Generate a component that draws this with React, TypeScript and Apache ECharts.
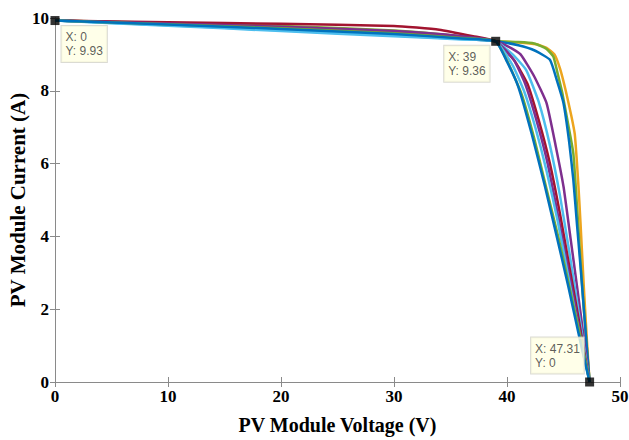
import React, { useEffect, useRef } from "react";
import * as echarts from "echarts";

// ---- data ----
const xTicks = [0, 10, 20, 30, 40, 50];
const yTicks = [0, 2, 4, 6, 8, 10];

const curveBlueInner = [[0, 9.93], [10, 9.82], [20, 9.7], [30, 9.56], [36, 9.44], [39, 9.36], [40, 8.8], [41.0, 8.11], [42.2, 6.8], [43.36, 5.37], [44.4, 4.0], [45.43, 2.62], [46.46, 1.15], [47.31, 0]];
const curveGreenInner = [[0, 9.93], [10, 9.83], [20, 9.72], [30, 9.58], [36, 9.45], [39, 9.36], [40.2, 8.7], [41.3, 7.9], [42.4, 6.7], [43.5, 5.3], [44.6, 3.9], [45.6, 2.5], [46.6, 1.1], [47.31, 0]];
const curveLightBlueInner = [[0, 9.93], [10, 9.79], [20, 9.64], [30, 9.5], [36, 9.41], [39, 9.36], [40.5, 8.7], [41.5, 8.0], [42.5, 7.0], [43.5, 5.8], [44.5, 4.4], [45.3, 3.1], [46.1, 1.8], [46.8, 0.7], [47.31, 0]];
const curvePurpleInner = [[0, 9.93], [10, 9.85], [20, 9.76], [30, 9.64], [36, 9.5], [39, 9.36], [40.6, 8.85], [41.6, 8.2], [42.6, 7.2], [43.6, 6.0], [44.5, 4.6], [45.3, 3.3], [46.1, 2.0], [46.8, 0.8], [47.31, 0]];
const curveDarkRed = [[0, 9.93], [10, 9.88], [20, 9.84], [30, 9.78], [34, 9.68], [37, 9.5], [39, 9.36], [40.6, 8.85], [41.8, 8.2], [42.8, 7.2], [43.8, 6.0], [44.7, 4.6], [45.5, 3.2], [46.3, 1.8], [46.9, 0.7], [47.31, 0]];
const curveLightBlue = [[0, 9.93], [10, 9.8], [20, 9.66], [30, 9.52], [36, 9.42], [39, 9.36], [40.5, 9.0], [41.7, 8.57], [42.8, 7.7], [43.8, 6.5], [44.7, 5.1], [45.5, 3.6], [46.2, 2.2], [46.8, 1.0], [47.31, 0]];
const curvePurple = [[0, 9.93], [10, 9.84], [20, 9.74], [30, 9.62], [36, 9.48], [39, 9.36], [40.2, 9.2], [41.2, 9.0], [42.4, 8.4], [43.5, 7.66], [44.3, 6.5], [45.0, 5.37], [45.6, 4.0], [46.2, 2.62], [46.8, 1.2], [47.31, 0]];
const curveBlueOuter = [[0, 9.93], [10, 9.81], [20, 9.68], [30, 9.54], [36, 9.43], [39, 9.36], [41, 9.25], [42.5, 9.1], [43.8, 8.85], [44.4, 8.3], [45.0, 7.66], [45.5, 6.6], [45.87, 5.55], [46.2, 4.3], [46.5, 3.2], [46.9, 1.6], [47.31, 0]];
const curveGreenOuter = [[0, 9.93], [10, 9.86], [20, 9.78], [30, 9.66], [36, 9.5], [39, 9.36], [41, 9.34], [42.4, 9.3], [43.5, 9.15], [44.1, 8.94], [44.5, 8.45], [44.9, 7.93], [45.4, 7.1], [45.87, 6.28], [46.2, 4.8], [46.46, 3.53], [46.8, 2.0], [47.31, 0]];
const curveOrange = [[0, 9.93], [10, 9.85], [20, 9.75], [30, 9.62], [36, 9.47], [39, 9.36], [41, 9.33], [42.6, 9.28], [43.5, 9.18], [44.2, 9.0], [44.7, 8.6], [45.2, 8.0], [45.7, 7.3], [46.0, 6.8], [46.3, 5.5], [46.5, 4.4], [46.8, 2.6], [47.1, 1.0], [47.31, 0]];

const tipPoints = [[0, 9.93], [39, 9.36], [47.31, 0]];

// ---- styles / layout ----
const curves = [
  { data: curveOrange, color: "#EDA51E" },
  { data: curveGreenOuter, color: "#77AC30" },
  { data: curveBlueOuter, color: "#0072BD" },
  { data: curvePurple, color: "#7E2F8E" },
  { data: curveLightBlue, color: "#4DBEEE" },
  { data: curveDarkRed, color: "#A2142F" },
  { data: curvePurpleInner, color: "#7E2F8E" },
  { data: curveLightBlueInner, color: "#4DBEEE" },
  { data: curveGreenInner, color: "#77AC30" },
  { data: curveBlueInner, color: "#0072BD" },
];
const tipLabelOffsets = [[11, 10], [-47, 9], [-54, -40]];

const serif = "'Liberation Serif', 'Times New Roman', serif";
const sans = "'Liberation Sans', Arial, sans-serif";
const axisGrey = "#8a8a8a";

export default function App() {
  const ref = useRef<HTMLDivElement>(null);
  useEffect(() => {
    if (!ref.current) return;
    const chart = echarts.init(ref.current, undefined, { renderer: "svg" });
    const baseX = {
      type: "value" as const,
      min: xTicks[0],
      max: xTicks[xTicks.length - 1],
      interval: xTicks[1] - xTicks[0],
      splitLine: { show: false },
      axisLine: { show: true, lineStyle: { color: axisGrey, width: 1 } },
      axisTick: { show: true, inside: true, length: 5, lineStyle: { color: axisGrey } },
    };
    const baseY = {
      type: "value" as const,
      min: yTicks[0],
      max: yTicks[yTicks.length - 1],
      interval: yTicks[1] - yTicks[0],
      splitLine: { show: false },
      axisLine: { show: true, lineStyle: { color: axisGrey, width: 1 } },
      axisTick: { show: true, inside: true, length: 5, lineStyle: { color: axisGrey } },
    };
    const option: any = {
      animation: false,
      backgroundColor: "#ffffff",
      grid: { left: 55, right: 9, top: 18, bottom: 58, containLabel: false, outerBoundsMode: "none" },
      xAxis: [
        {
          ...baseX,
          position: "bottom",
          axisLabel: { color: "#000", fontFamily: serif, fontWeight: "bold", fontSize: 17, margin: 6 },
          name: "PV Module Voltage (V)",
          nameLocation: "middle",
          nameGap: 33,
          nameMoveOverlap: false,
          nameTextStyle: { color: "#000", fontFamily: serif, fontWeight: "bold", fontSize: 20 },
        },
        { ...baseX, position: "top", axisLabel: { show: false } },
      ],
      yAxis: [
        {
          ...baseY,
          position: "left",
          axisLabel: { color: "#000", fontFamily: serif, fontWeight: "bold", fontSize: 17, margin: 6 },
          name: "PV Module Current (A)",
          nameLocation: "middle",
          nameGap: 27,
          nameMoveOverlap: false,
          nameTextStyle: { color: "#000", fontFamily: serif, fontWeight: "bold", fontSize: 21 },
        },
        { ...baseY, position: "right", axisLabel: { show: false } },
      ],
      series: [
        ...curves.map((c) => ({
          type: "line",
          data: c.data,
          showSymbol: false,
          symbol: "none",
          smooth: 0.15,
          lineStyle: { color: c.color, width: 2.5, join: "round" },
          z: 2,
        })),
        {
          type: "scatter",
          symbol: "rect",
          symbolSize: 9,
          itemStyle: { color: "#000" },
          z: 5,
          data: tipPoints.map((p, i) => ({
            value: p,
            label: {
              show: true,
              position: tipLabelOffsets[i],
              align: "left",
              verticalAlign: "top",
              formatter: `X: ${p[0]}\nY: ${p[1]}`,
              fontFamily: sans,
              fontSize: 12,
              lineHeight: 14,
              color: "#333",
              backgroundColor: "#FFFFE3",
              borderColor: "#D2D2C8",
              borderWidth: 1,
              padding: [4, 4, 4, 4],
            },
          })),
        },
      ],
    };
    chart.setOption(option);
    return () => chart.dispose();
  }, []);
  return (
    <div
      ref={ref}
      style={{ position: "fixed", left: 0, top: 0, width: 629, height: 440, background: "#fff" }}
    />
  );
}
